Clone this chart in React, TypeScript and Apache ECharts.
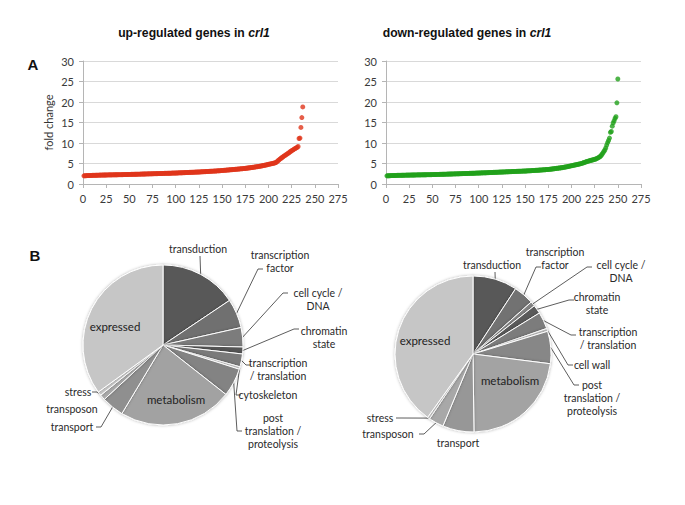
import React, { useEffect, useRef } from 'react';
import * as echarts from 'echarts';

// ---------- Panel A data: fold change of genes ranked ----------
const upFoldChange = [
  2.00, 2.02, 2.03, 2.04, 2.05, 2.06, 2.07, 2.08, 2.09, 2.10,
  2.11, 2.12, 2.12, 2.13, 2.14, 2.15, 2.15, 2.16, 2.17, 2.18,
  2.18, 2.19, 2.19, 2.20, 2.20, 2.21, 2.21, 2.22, 2.22, 2.23,
  2.23, 2.24, 2.24, 2.25, 2.25, 2.26, 2.26, 2.27, 2.27, 2.28,
  2.28, 2.29, 2.29, 2.30, 2.30, 2.31, 2.32, 2.32, 2.33, 2.34,
  2.34, 2.35, 2.35, 2.36, 2.36, 2.37, 2.38, 2.38, 2.39, 2.40,
  2.40, 2.41, 2.42, 2.42, 2.43, 2.44, 2.44, 2.45, 2.46, 2.47,
  2.47, 2.48, 2.49, 2.49, 2.50, 2.51, 2.51, 2.52, 2.53, 2.53,
  2.54, 2.55, 2.55, 2.56, 2.57, 2.58, 2.58, 2.59, 2.60, 2.60,
  2.61, 2.62, 2.62, 2.63, 2.64, 2.65, 2.66, 2.66, 2.67, 2.68,
  2.69, 2.70, 2.71, 2.72, 2.73, 2.74, 2.75, 2.76, 2.77, 2.78,
  2.79, 2.80, 2.81, 2.82, 2.83, 2.84, 2.85, 2.86, 2.87, 2.88,
  2.89, 2.90, 2.91, 2.92, 2.93, 2.95, 2.96, 2.97, 2.98, 3.00,
  3.01, 3.02, 3.04, 3.05, 3.06, 3.08, 3.09, 3.11, 3.12, 3.13,
  3.15, 3.16, 3.18, 3.19, 3.21, 3.22, 3.24, 3.25, 3.27, 3.29,
  3.31, 3.33, 3.35, 3.37, 3.39, 3.41, 3.43, 3.45, 3.47, 3.49,
  3.51, 3.53, 3.55, 3.57, 3.59, 3.61, 3.63, 3.65, 3.68, 3.70,
  3.72, 3.74, 3.77, 3.79, 3.81, 3.84, 3.87, 3.90, 3.93, 3.96,
  3.99, 4.02, 4.06, 4.09, 4.13, 4.16, 4.20, 4.23, 4.27, 4.31,
  4.35, 4.39, 4.44, 4.48, 4.53, 4.58, 4.63, 4.68, 4.73, 4.79,
  4.84, 4.89, 4.94, 4.99, 5.04, 5.09, 5.15, 5.22, 5.40, 5.60,
  5.80, 6.00, 6.18, 6.35, 6.52, 6.68, 6.85, 7.00, 7.15, 7.30,
  7.45, 7.60, 7.80, 7.95, 8.10, 8.25, 8.40, 8.55, 8.70, 8.80,
  8.95, 9.15, 11.10, 11.20, 13.80, 16.20, 18.80,
];

const downFoldChange = [
  2.00, 2.01, 2.02, 2.03, 2.04, 2.05, 2.06, 2.07, 2.07, 2.08,
  2.09, 2.10, 2.10, 2.11, 2.12, 2.12, 2.13, 2.14, 2.14, 2.15,
  2.15, 2.16, 2.16, 2.17, 2.17, 2.18, 2.18, 2.19, 2.19, 2.20,
  2.20, 2.21, 2.21, 2.22, 2.22, 2.23, 2.23, 2.24, 2.24, 2.25,
  2.25, 2.26, 2.26, 2.27, 2.27, 2.28, 2.28, 2.29, 2.29, 2.30,
  2.30, 2.31, 2.32, 2.32, 2.33, 2.34, 2.34, 2.35, 2.36, 2.36,
  2.37, 2.38, 2.38, 2.39, 2.40, 2.41, 2.41, 2.42, 2.43, 2.44,
  2.44, 2.45, 2.46, 2.47, 2.47, 2.48, 2.49, 2.50, 2.50, 2.51,
  2.52, 2.53, 2.54, 2.54, 2.55, 2.56, 2.57, 2.58, 2.58, 2.59,
  2.60, 2.61, 2.62, 2.62, 2.63, 2.64, 2.65, 2.66, 2.67, 2.68,
  2.69, 2.70, 2.71, 2.71, 2.72, 2.73, 2.74, 2.75, 2.76, 2.77,
  2.78, 2.79, 2.80, 2.81, 2.82, 2.83, 2.84, 2.85, 2.86, 2.87,
  2.88, 2.89, 2.90, 2.91, 2.92, 2.93, 2.94, 2.95, 2.96, 2.97,
  2.98, 2.99, 3.00, 3.01, 3.02, 3.03, 3.04, 3.05, 3.06, 3.07,
  3.08, 3.09, 3.10, 3.11, 3.12, 3.13, 3.14, 3.15, 3.16, 3.17,
  3.18, 3.20, 3.21, 3.22, 3.24, 3.25, 3.26, 3.28, 3.29, 3.31,
  3.32, 3.33, 3.35, 3.36, 3.38, 3.39, 3.41, 3.43, 3.44, 3.46,
  3.48, 3.50, 3.52, 3.54, 3.56, 3.58, 3.60, 3.63, 3.66, 3.69,
  3.72, 3.75, 3.78, 3.81, 3.84, 3.87, 3.90, 3.93, 3.96, 4.00,
  4.04, 4.08, 4.12, 4.16, 4.20, 4.25, 4.30, 4.35, 4.40, 4.45,
  4.50, 4.55, 4.60, 4.65, 4.70, 4.75, 4.80, 4.85, 4.90, 4.96,
  5.02, 5.10, 5.18, 5.26, 5.34, 5.42, 5.50, 5.57, 5.64, 5.70,
  5.76, 5.82, 5.88, 5.94, 6.00, 6.08, 6.18, 6.30, 6.42, 6.55,
  6.70, 6.95, 7.25, 7.60, 7.95, 8.30, 8.80, 9.50, 10.10, 10.60,
  11.20, 12.60, 12.80, 14.10, 14.90, 15.40, 16.00, 16.40, 19.80, 25.60,
];

// ---------- Panel B data: functional categories (% of genes) ----------
const upCategories = [
  'transduction', 'transcription\nfactor', 'cell cycle /\nDNA', 'chromatin\nstate',
  'transcription\n/ translation', 'cytoskeleton', 'post\ntranslation /\nproteolysis',
  'metabolism', 'transport', 'transposon', 'stress', 'expressed',
];
const upShares = [15.6, 5.9, 3.9, 1.4, 2.6, 0.5, 5.7, 23.0, 4.5, 1.1, 0.8, 35.0];

const downCategories = [
  'transduction', 'transcription\nfactor', 'cell cycle /\nDNA', 'chromatin\nstate',
  'transcription\n/ translation', 'cell wall', 'post\ntranslation /\nproteolysis',
  'metabolism', 'transport', 'transposon', 'stress', 'expressed',
];
const downShares = [9.2, 4.2, 1.0, 1.8, 3.5, 0.6, 6.7, 22.8, 6.5, 3.1, 0.5, 40.1];

const upSliceColors = ['#585858', '#6f6f6f', '#7b7b7b', '#555555', '#7a7a7a', '#c8c8c8',
  '#838383', '#a2a2a2', '#8f8f8f', '#aaaaaa', '#c9c9c9', '#c6c6c6'];
const downSliceColors = ['#585858', '#727272', '#858585', '#5a5a5a', '#7c7c7c', '#c0c0c0',
  '#878787', '#a3a3a3', '#979797', '#a8a8a8', '#c9c9c9', '#c6c6c6'];

const insideLabels = ['metabolism', 'expressed'];

// label layout (positions only, not data)
type LP = { x: number; y: number; ax?: number; ay?: number; v?: boolean };
const upLabelLayout: LP[] = [
  { x: 198, y: 249, ax: 200, ay: 256, v: true },
  { x: 280, y: 261, ax: 263, ay: 269 },
  { x: 318, y: 299, ax: 288, ay: 293 },
  { x: 324, y: 337, ax: 299, ay: 329 },
  { x: 278, y: 369, ax: 251, ay: 365 },
  { x: 268, y: 395, ax: 241, ay: 395 },
  { x: 273, y: 431, ax: 242, ay: 431 },
  { x: 176, y: 399 },
  { x: 72, y: 427, ax: 96, ay: 427 },
  { x: 72, y: 409 },
  { x: 78, y: 392, ax: 92, ay: 392 },
  { x: 115, y: 326 },
];
const downLabelLayout: LP[] = [
  { x: 492, y: 265, ax: 495, ay: 272, v: true },
  { x: 555, y: 258, ax: 541, ay: 267 },
  { x: 621, y: 271, ax: 592, ay: 267 },
  { x: 597, y: 303, ax: 574, ay: 300 },
  { x: 608, y: 338, ax: 576, ay: 335 },
  { x: 592, y: 365, ax: 573, ay: 365 },
  { x: 592, y: 398, ax: 579, ay: 385 },
  { x: 510, y: 380 },
  { x: 458, y: 443 },
  { x: 388, y: 434, ax: 419, ay: 434 },
  { x: 380, y: 418, ax: 396, ay: 418 },
  { x: 425, y: 340 },
];

const FONT = 'Lato, "Open Sans", sans-serif';
const TITLE_FONT = '"Liberation Sans", Arial, sans-serif';

function makeLabelLayout(layout: LP[], cx: number) {
  return (params: any) => {
    const L = layout[params.dataIndex];
    if (!L) return {};
    const res: any = { x: L.x, y: L.y, align: 'center', verticalAlign: 'middle' };
    const pts = params.labelLinePoints;
    if (L.ax != null && L.ay != null && pts && pts[0]) {
      const p0 = pts[0];
      if (L.v) {
        res.labelLinePoints = [p0, [L.ax, L.ay], [L.ax, L.ay]];
      } else {
        const dir = L.ax > cx ? 1 : -1;
        res.labelLinePoints = [p0, [L.ax - dir * 5, L.ay], [L.ax, L.ay]];
      }
    }
    return res;
  };
}

function pieData(cats: string[], vals: number[], colors: string[], layout: LP[]) {
  return cats.map((name, i) => {
    const inside = insideLabels.includes(name);
    const hasLine = layout[i] && layout[i].ax != null;
    return {
      name,
      value: vals[i],
      itemStyle: { color: colors[i] },
      label: inside ? { position: 'inside', fontSize: 11.5, color: '#222' } : { position: 'outside' },
      labelLine: { show: !inside && !!hasLine },
    };
  });
}

function axisPair(gridIndex: number, showName: boolean) {
  const xAxis = {
    type: 'value', gridIndex, min: 0, max: 275, interval: 25,
    axisLine: { show: true, onZero: false, lineStyle: { color: '#b5b5b5', width: 1 } },
    axisTick: { show: true, length: 4, lineStyle: { color: '#b5b5b5' } },
    axisLabel: { fontSize: 11, color: '#3a3a3a', margin: 9, fontFamily: FONT },
    splitLine: { show: false },
  };
  const yAxis: any = {
    type: 'value', gridIndex, min: 0, max: 30, interval: 5,
    axisLine: { show: true, lineStyle: { color: '#b5b5b5', width: 1 } },
    axisTick: { show: true, length: 4, lineStyle: { color: '#b5b5b5' } },
    axisLabel: { fontSize: 11, color: '#3a3a3a', margin: 9, fontFamily: FONT },
    splitLine: { show: true, lineStyle: { color: '#d9d9d9', width: 1 } },
  };
  if (showName) {
    yAxis.name = 'fold change';
    yAxis.nameLocation = 'middle';
    yAxis.nameGap = 29;
    yAxis.nameTextStyle = { fontSize: 11, color: '#333', fontFamily: FONT };
  }
  return { xAxis, yAxis };
}

function titleRich(size: number) {
  return {
    a: { fontSize: size, fontWeight: 'bold', fontFamily: TITLE_FONT, fill: '#111' },
    b: { fontSize: size, fontWeight: 'bold', fontStyle: 'italic', fontFamily: TITLE_FONT, fill: '#111' },
  };
}

export default function App() {
  const ref = useRef<HTMLDivElement>(null);
  useEffect(() => {
    if (!ref.current) return;
    const chart = echarts.init(ref.current, undefined, { renderer: 'svg' });
    const a0 = axisPair(0, true);
    const a1 = axisPair(1, false);
    const pieCommon = {
      type: 'pie',
      startAngle: 90,
      clockwise: true,
      avoidLabelOverlap: false,
      itemStyle: { borderColor: '#ffffff', borderWidth: 1, shadowBlur: 3, shadowColor: 'rgba(0,0,0,0.3)' },
      label: { show: true, fontSize: 10.5, lineHeight: 13, color: '#2a2a2a', fontFamily: FONT },
      labelLine: { show: true, lineStyle: { color: '#333', width: 0.8 } },
      emphasis: { disabled: true },
    };
    const option: any = {
      animation: false,
      backgroundColor: '#ffffff',
      textStyle: { fontFamily: FONT },
      grid: [
        { left: 83, top: 61, width: 255, height: 123 },
        { left: 386, top: 61, width: 255, height: 123 },
      ],
      xAxis: [a0.xAxis, a1.xAxis],
      yAxis: [a0.yAxis, a1.yAxis],
      series: [
        {
          type: 'scatter', xAxisIndex: 0, yAxisIndex: 0, symbolSize: 5,
          itemStyle: { color: '#e0361c' },
          data: upFoldChange.map((v, i) => [i + 1, v]),
        },
        {
          type: 'scatter', xAxisIndex: 1, yAxisIndex: 1, symbolSize: 5,
          itemStyle: { color: '#22a11c' },
          data: downFoldChange.map((v, i) => [i + 1, v]),
        },
        {
          ...pieCommon,
          center: [163, 345],
          radius: 80,
          labelLayout: makeLabelLayout(upLabelLayout, 163),
          data: pieData(upCategories, upShares, upSliceColors, upLabelLayout),
        },
        {
          ...pieCommon,
          center: [473, 354],
          radius: 78,
          labelLayout: makeLabelLayout(downLabelLayout, 473),
          data: pieData(downCategories, downShares, downSliceColors, downLabelLayout),
        },
      ],
      graphic: [
        {
          type: 'text', x: 194, y: 33,
          style: {
            text: '{a|up-regulated genes in }{b|crl1}',
            align: 'center', verticalAlign: 'middle',
            rich: titleRich(12.2),
          },
        },
        {
          type: 'text', x: 467, y: 33,
          style: {
            text: '{a|down-regulated genes in }{b|crl1}',
            align: 'center', verticalAlign: 'middle',
            rich: titleRich(12.2),
          },
        },
        {
          type: 'text', x: 33, y: 64,
          style: { text: 'A', fontSize: 15, fontWeight: 'bold', fontFamily: TITLE_FONT, fill: '#111', align: 'center', verticalAlign: 'middle' },
        },
        {
          type: 'text', x: 35, y: 255,
          style: { text: 'B', fontSize: 15, fontWeight: 'bold', fontFamily: TITLE_FONT, fill: '#111', align: 'center', verticalAlign: 'middle' },
        },
      ],
    };
    chart.setOption(option);
    return () => chart.dispose();
  }, []);
  return (
    <div
      ref={ref}
      style={{ position: 'fixed', left: 0, top: 0, width: 685, height: 505, background: '#fff' }}
    />
  );
}
